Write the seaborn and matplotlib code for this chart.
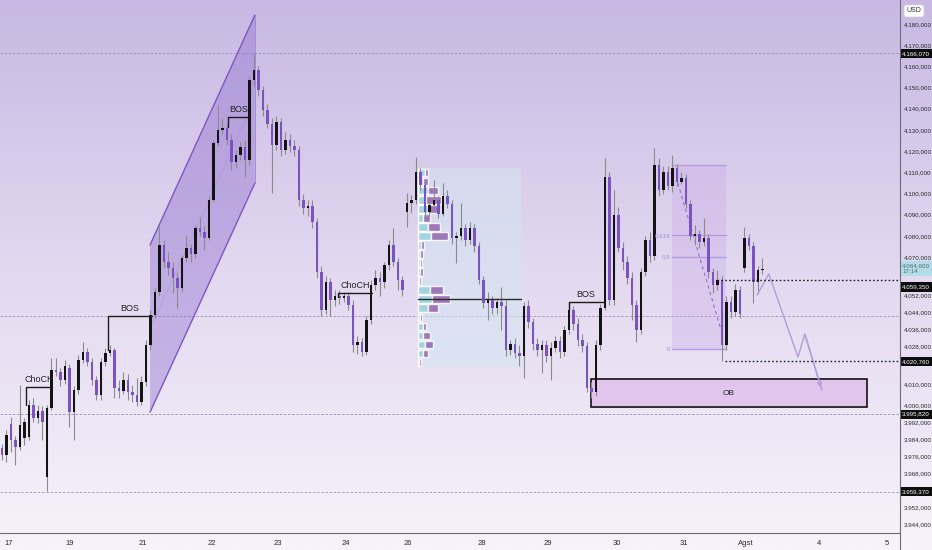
import numpy as np
import pandas as pd
import matplotlib
matplotlib.use("Agg")
import matplotlib.pyplot as plt
import seaborn as sns
from matplotlib.patches import Polygon, Rectangle
from matplotlib.colors import LinearSegmentedColormap
from matplotlib.lines import Line2D

# ---- candle data (price in thousands) ----
opens = [3979.8, 3976.5, 3991.2, 3983.6, 3980.3, 3984.6, 3985.0, 4000.1, 3994.0, 3997.3,
         3966.2, 3998.7, 4016.7, 4015.7, 4011.9, 4017.6, 3996.8, 4007.2, 4021.4, 4025.2,
         4020.4, 4011.9, 4004.9, 4020.4, 4024.7, 4026.1, 4008.2, 4006.7, 4011.9, 4006.3,
         4004.9, 4001.6, 4011.0, 4028.5, 4042.6, 4053.5, 4075.7, 4067.6, 4064.8, 4060.1,
         4055.4, 4069.5, 4074.2, 4071.4, 4083.7, 4081.8, 4079.0, 4096.9, 4123.8, 4129.9,
         4130.9, 4125.2, 4114.8, 4118.1, 4121.9, 4115.8, 4153.5, 4158.3, 4148.8, 4139.4,
         4132.8, 4122.9, 4133.7, 4120.5, 4125.2, 4122.4, 4120.5, 4096.9, 4093.1, 4094.1,
         4086.5, 4062.9, 4045.0, 4058.2, 4049.7, 4051.6, 4050.6, 4051.6, 4047.3, 4028.5,
         4029.9, 4025.2, 4040.3, 4056.8, 4060.1, 4058.2, 4066.2, 4075.7, 4067.6, 4059.1,
         4091.2, 4095.5, 4096.9, 4110.1, 4104.0, 4091.2, 4094.5, 4096.9, 4090.3, 4098.8,
         4095.0, 4079.0, 4079.9, 4083.7, 4078.0, 4083.7, 4075.2, 4059.1, 4048.3, 4049.7,
         4045.9, 4048.8, 4046.9, 4026.1, 4028.9, 4024.7, 4023.3, 4046.9, 4039.3, 4028.9,
         4026.1, 4028.5, 4023.3, 4027.0, 4030.3, 4025.2, 4035.5, 4045.0, 4038.4, 4030.8,
         4028.0, 4008.2, 4006.3, 4028.5, 4045.9, 4107.8, 4049.7, 4089.8, 4074.2, 4067.6,
         4060.1, 4047.3, 4035.5, 4062.9, 4078.0, 4070.5, 4113.4, 4101.6, 4110.1, 4103.5,
         4112.0, 4105.4, 4107.3, 4095.0, 4079.9, 4080.9, 4077.1, 4079.0, 4062.9, 4056.8,
         4059.1, 4028.5, 4048.8, 4044.0, 4054.4, 4064.8, 4079.0, 4075.2, 4058.2, 4063.9]
highs = [3981.7, 3988.3, 3994.5, 3985.5, 4009.6, 3994.0, 4002.5, 4003.4, 4000.1, 3999.7,
         4000.1, 4022.3, 4022.3, 4017.6, 4021.4, 4019.5, 4009.1, 4023.7, 4029.9, 4027.0,
         4022.3, 4013.8, 4022.3, 4027.0, 4028.5, 4027.0, 4011.9, 4015.7, 4014.8, 4009.6,
         4012.9, 4013.8, 4030.8, 4045.0, 4055.4, 4084.2, 4078.0, 4072.4, 4067.6, 4062.9,
         4070.9, 4080.4, 4076.1, 4085.1, 4088.9, 4084.6, 4098.8, 4125.2, 4141.7, 4135.6,
         4132.8, 4128.1, 4120.5, 4124.3, 4125.2, 4155.4, 4166.1, 4160.1, 4150.7, 4142.2,
         4135.6, 4136.5, 4135.6, 4129.0, 4128.1, 4125.2, 4122.4, 4099.7, 4096.9, 4096.9,
         4088.4, 4065.7, 4061.0, 4060.1, 4054.4, 4054.4, 4053.5, 4053.5, 4049.7, 4032.7,
         4031.8, 4042.1, 4059.1, 4063.9, 4062.9, 4067.6, 4078.0, 4083.7, 4069.5, 4061.0,
         4100.2, 4099.3, 4117.2, 4112.0, 4106.3, 4097.8, 4106.3, 4098.8, 4104.9, 4101.6,
         4096.9, 4081.8, 4095.5, 4085.6, 4086.5, 4085.6, 4077.1, 4061.0, 4053.5, 4051.6,
         4050.6, 4055.8, 4049.7, 4030.8, 4031.8, 4028.5, 4048.8, 4049.7, 4041.2, 4031.8,
         4030.8, 4030.8, 4029.9, 4032.7, 4032.7, 4037.4, 4048.8, 4046.9, 4041.2, 4033.7,
         4029.9, 4011.0, 4030.8, 4047.8, 4116.7, 4110.1, 4101.6, 4093.6, 4077.1, 4070.5,
         4062.9, 4049.7, 4064.8, 4079.9, 4081.8, 4121.4, 4116.7, 4112.9, 4112.9, 4118.1,
         4113.9, 4110.1, 4109.2, 4096.9, 4085.1, 4082.7, 4088.4, 4080.9, 4064.8, 4063.9,
         4061.0, 4051.6, 4051.6, 4057.3, 4056.3, 4084.2, 4080.9, 4077.1, 4065.7, 4069.5]
lows = [3974.2, 3973.2, 3978.0, 3971.8, 3978.9, 3981.3, 3983.6, 3992.1, 3991.6, 3983.6,
        3959.4, 3997.8, 4013.8, 4009.1, 4010.1, 3989.8, 3983.6, 4005.3, 4020.0, 4018.5,
        4009.6, 4002.5, 4002.5, 4018.5, 4023.3, 4003.4, 4003.4, 4005.3, 4002.5, 4001.6,
        3999.7, 4000.1, 4009.1, 4026.1, 4041.2, 4051.6, 4064.8, 4061.5, 4053.0, 4045.9,
        4053.5, 4067.6, 4067.6, 4069.5, 4079.9, 4073.3, 4078.0, 4096.0, 4122.4, 4128.1,
        4122.9, 4111.1, 4112.0, 4115.8, 4107.8, 4113.4, 4150.7, 4146.0, 4136.5, 4130.9,
        4100.2, 4120.5, 4117.7, 4118.6, 4119.6, 4117.7, 4094.1, 4090.3, 4089.3, 4083.7,
        4060.1, 4042.1, 4043.1, 4042.1, 4046.9, 4047.8, 4048.8, 4045.0, 4025.2, 4024.2,
        4023.3, 4023.7, 4038.4, 4054.4, 4051.6, 4055.4, 4063.9, 4065.7, 4054.4, 4051.6,
        4084.2, 4090.8, 4095.0, 4101.6, 4088.4, 4089.3, 4093.1, 4088.4, 4089.3, 4093.1,
        4076.1, 4067.2, 4078.0, 4075.2, 4076.1, 4072.4, 4057.3, 4045.9, 4040.3, 4043.1,
        4043.1, 4035.5, 4023.3, 4023.7, 4022.3, 4018.5, 4012.9, 4036.5, 4026.1, 4023.3,
        4015.2, 4020.4, 4011.9, 4025.2, 4022.3, 4023.3, 4033.7, 4035.5, 4028.0, 4025.2,
        4006.3, 4003.4, 4004.4, 4026.1, 4045.0, 4047.3, 4047.3, 4072.4, 4063.9, 4057.3,
        4040.3, 4029.9, 4033.7, 4061.0, 4067.6, 4068.6, 4098.8, 4099.7, 4101.6, 4100.7,
        4103.5, 4104.5, 4093.1, 4078.0, 4075.7, 4074.2, 4075.2, 4060.1, 4053.0, 4054.4,
        4020.8, 4026.1, 4041.2, 4042.1, 4041.2, 4062.9, 4073.3, 4048.3, 4053.0, 4062.0]
closes = [3976.5, 3986.0, 3983.6, 3980.3, 3990.7, 3992.1, 4000.1, 3994.0, 3997.3, 3992.1,
          3998.7, 4016.7, 4015.7, 4011.9, 4018.5, 3996.8, 4007.2, 4021.4, 4025.2, 4020.4,
          4011.9, 4004.9, 4020.4, 4024.7, 4026.1, 4008.2, 4006.7, 4011.9, 4006.3, 4004.9,
          4001.6, 4011.0, 4028.5, 4042.6, 4053.5, 4075.7, 4067.6, 4064.8, 4060.1, 4055.4,
          4069.5, 4074.2, 4071.4, 4083.7, 4081.8, 4079.0, 4096.9, 4123.8, 4129.9, 4130.9,
          4125.2, 4114.8, 4118.1, 4121.9, 4115.8, 4153.5, 4158.3, 4148.8, 4139.4, 4132.8,
          4122.9, 4133.7, 4120.5, 4125.2, 4122.4, 4120.5, 4096.9, 4093.1, 4094.1, 4086.5,
          4062.9, 4045.0, 4058.2, 4049.7, 4051.6, 4050.6, 4051.6, 4047.3, 4028.5, 4029.9,
          4025.2, 4040.3, 4056.8, 4060.1, 4058.2, 4066.2, 4075.7, 4067.6, 4059.1, 4054.4,
          4095.5, 4096.9, 4110.1, 4104.0, 4091.2, 4094.5, 4096.9, 4090.3, 4098.8, 4095.0,
          4079.0, 4079.9, 4083.7, 4078.0, 4083.7, 4075.2, 4059.1, 4048.3, 4049.7, 4045.9,
          4048.8, 4046.9, 4026.1, 4028.9, 4024.7, 4023.3, 4046.9, 4039.3, 4028.9, 4026.1,
          4028.5, 4023.3, 4027.0, 4030.3, 4025.2, 4035.5, 4045.0, 4038.4, 4030.8, 4028.0,
          4008.2, 4006.3, 4028.5, 4045.9, 4107.8, 4049.7, 4089.8, 4074.2, 4067.6, 4060.1,
          4047.3, 4035.5, 4062.9, 4078.0, 4070.5, 4113.4, 4101.6, 4110.1, 4103.5, 4112.0,
          4105.4, 4107.3, 4095.0, 4079.9, 4080.9, 4077.1, 4079.0, 4062.9, 4056.8, 4059.1,
          4028.5, 4048.8, 4044.0, 4054.4, 4043.1, 4079.0, 4075.2, 4058.2, 4063.9, 4064.6]

# ---- axes labels ----
date_ticks = [1.4, 15.1, 31.3, 46.7, 61.3, 76.4, 90.2, 106.7, 121.3, 136.7, 151.6, 165.3, 181.6, 196.7]
date_labels = ["17", "19", "21", "22", "23", "24", "26", "28", "29", "30", "31", "Agst", "4", "5"]
price_ticks = [4180, 4170, 4160, 4150, 4140, 4130, 4120, 4110, 4100, 4090, 4080, 4070,
               4052, 4044, 4036, 4028, 4010, 4000, 3992, 3984, 3976, 3968, 3952, 3944]

# ---- drawings ----
channel_bars = [32.9, 56.2]
channel_upper = [4075.7, 4184.2]
channel_lower = [3996.8, 4104.9]

# (label, first bar, last bar, level, end of the short leg)
structures = [("ChoCH", 5.3, 11.1, 4008.6, 4000.1),
              ("BOS", 23.6, 33.3, 4042.1, 4026.1),
              ("BOS", 50.2, 55.1, 4136.1, 4131.4),
              ("ChoCH", 74.7, 82.2, 4053.0, 4051.1),
              ("BOS", 126.0, 133.6, 4048.8, 4045.0)]

vp_bars = [92.4, 115.3]
vp_top, vp_bottom = 4112.0, 4018.1
vp_up = [7, 5, 10, 8, 10, 5, 10, 13, 3, 2, 2, 2, 1, 12, 14, 10, 2, 5, 5, 7, 5, 1]
vp_down = [3, 5, 10, 15, 10, 7, 12, 17, 3, 3, 2, 3, 2, 13, 18, 10, 2, 3, 7, 8, 5, 2]

fib_bars = [148.9, 160.9]
fib_high, fib_low = 4113.4, 4026.6
fib_ratios = [1, 0.618, 0.5, 0]
fib_path_bars = [150.2, 160.0]
fib_path_prices = [4104.9, 4034.1]

proj_bars = [167.8, 170.4, 176.9, 178.4, 182.2]
proj_prices = [4052.1, 4062.0, 4022.8, 4033.7, 4007.2]

ob_bars = [130.9, 192.2]
ob_low, ob_high = 3999.2, 4012.4

level_lines = [4166.07, 4042.2, 3995.82, 3959.37]
marked_levels = [(4059.35, 158.9), (4020.76, 160.7)]
axis_labels = [(4166.07, 0), (4059.35, -5.4), (4020.76, 0), (3995.82, 0), (3959.37, 0)]
last_price = 4064.6
last_time = "17:14"


def fmt(v):
    s = f"{v:,.3f}"
    return s.replace(",", " ").replace(".", ",").replace(" ", ".")


sns.set_style("white")
plt.rcParams["font.family"] = ["Liberation Sans", "DejaVu Sans"]

df = pd.DataFrame({"open": opens, "high": highs, "low": lows, "close": closes})
df["bar"] = np.arange(len(df))
df["up"] = df["close"] >= df["open"]
body = df["close"] - df["open"]
body = np.where(body.abs() < 0.4, np.where(df["up"], 0.4, -0.4), body)

fig = plt.figure(figsize=(9.32, 5.5), dpi=100)

bg = fig.add_axes([0, 0, 1, 1], zorder=0)
grad = np.linspace(0, 1, 256).reshape(-1, 1)
cmap = LinearSegmentedColormap.from_list("bg", ["#c8b8e3", "#e3d9f0", "#f6f3fa"])
bg.imshow(grad, extent=[0, 1, 0, 1], aspect="auto", cmap=cmap, origin="upper")
bg.set_xlim(0, 1)
bg.set_ylim(0, 1)
bg.axis("off")

ax = fig.add_axes([0, 17 / 550, 900 / 932, 533 / 550], zorder=1)
ax.set_facecolor("none")
ax.set_xlim(-0.44, 199.56)
ax.set_ylim(3939.8, 4191.3)

# thin level lines across the chart
for lv in level_lines:
    ax.axhline(lv, color="#9d93b8", lw=0.6, ls=(0, (3, 2)), zorder=1)

# channel
ax.add_patch(Polygon([[channel_bars[0], channel_upper[0]], [channel_bars[1], channel_upper[1]],
                      [channel_bars[1], channel_lower[1]], [channel_bars[0], channel_lower[0]]],
                     closed=True, fc="#8c6bcf", alpha=0.4, ec="none", zorder=2))
ax.plot(channel_bars, channel_upper, color="#7e57c2", lw=1, zorder=2)
ax.plot(channel_bars, channel_lower, color="#7e57c2", lw=1, zorder=2)
ax.plot([channel_bars[1], channel_bars[1]], [channel_lower[1], channel_upper[1]], color="#9d84d2", lw=0.6, zorder=2)
mid = [(a + b) / 2 for a, b in zip(channel_upper, channel_lower)]
ax.plot(channel_bars, mid, color="#a18ad0", lw=0.6, ls=(0, (1.5, 2)), zorder=2)

# volume profile
ax.add_patch(Rectangle((vp_bars[0], vp_bottom), vp_bars[1] - vp_bars[0], vp_top - vp_bottom,
                       fc="#d2e5f1", alpha=0.55, ec="none", zorder=2))
n_rows = len(vp_up)
row_h = (vp_top - vp_bottom) / n_rows
row_bottoms = vp_top - row_h * (np.arange(n_rows) + 1)
vscale = 1 / 4.5
up_w = np.array(vp_up) * vscale
down_w = np.array(vp_down) * vscale
ax.barh(row_bottoms + row_h * 0.08, up_w, height=row_h * 0.84, left=vp_bars[0],
        align="edge", color="#a4d4df", zorder=3)
ax.barh(row_bottoms + row_h * 0.08, down_w, height=row_h * 0.84, left=vp_bars[0] + up_w,
        align="edge", color="#9366ae", alpha=0.85, zorder=3)
poc = row_bottoms[np.argmax(up_w + down_w)] + row_h / 2
ax.plot(vp_bars, [poc, poc], color="#2b2b2b", lw=1, zorder=5)

# fib retracement box
ax.add_patch(Rectangle((fib_bars[0], fib_low), fib_bars[1] - fib_bars[0], fib_high - fib_low,
                       fc="#c4a3e6", alpha=0.3, ec="none", zorder=2))
for r in fib_ratios:
    lv = fib_low + r * (fib_high - fib_low)
    ax.plot(fib_bars, [lv, lv], color="#b59be0", lw=1, zorder=2)
    if r < 1:
        ax.text(fib_bars[0] - 0.4, lv, fmt(r).rstrip("0").rstrip(","),
                ha="right", va="center", fontsize=4.5, color="#a58bd0", zorder=6)
ax.plot(fib_path_bars, fib_path_prices, color="#8f6fcf", lw=0.8, ls=(0, (3, 3)), zorder=3)

# order block
ax.add_patch(Rectangle((ob_bars[0], ob_low), ob_bars[1] - ob_bars[0], ob_high - ob_low,
                       fc="#e2c5ec", ec="#111111", lw=1.2, zorder=2))
ax.text(sum(ob_bars) / 2, (ob_low + ob_high) / 2, "OB", ha="center", va="center",
        fontsize=6, color="#222222", zorder=6)

# candles
ax.vlines(df["bar"], df["low"], df["high"], color="#8b8b8b", lw=0.8, zorder=4)
ax.bar(df["bar"], body, bottom=df["open"], width=0.62,
       color=np.where(df["up"], "#131313", "#7b52c1"), linewidth=0, zorder=5)

# structure breaks
for label, b0, b1, lv, leg in structures:
    ax.plot([b0, b0, b1], [leg, lv, lv], color="#1c1c1c", lw=1, zorder=6)
    ax.annotate(label, xy=((b0 + b1) / 2, lv), xytext=(0, 2), textcoords="offset points",
                ha="center", va="bottom", fontsize=6.5, color="#222222", zorder=7)

# projection
sns.lineplot(x=proj_bars, y=proj_prices, sort=False, estimator=None, ax=ax,
             color="#b39ddb", lw=1, zorder=6)
ax.annotate("", xy=(proj_bars[-1], proj_prices[-1]), xytext=(proj_bars[-2], proj_prices[-2]),
            arrowprops=dict(arrowstyle="->", color="#b39ddb", lw=1, mutation_scale=7), zorder=6)

# dotted marked levels
for lv, start in marked_levels:
    ax.plot([start, 199.56], [lv, lv], color="#222222", lw=1, ls=(0, (1.2, 1.6)), zorder=6)

# axes styling
for s in ax.spines.values():
    s.set_visible(False)
ax.yaxis.tick_right()
ax.set_yticks(price_ticks)
ax.set_yticklabels([fmt(v) for v in price_ticks])
ax.set_xticks(date_ticks)
ax.set_xticklabels(date_labels)
ax.tick_params(axis="both", length=0, colors="#2a2a2a")
ax.tick_params(axis="y", pad=2.5, labelsize=4.5)
ax.tick_params(axis="x", pad=5, labelsize=5.5)

fig.add_artist(Line2D([900 / 932, 900 / 932], [0, 1], color="#6f6a78", lw=0.8))
fig.add_artist(Line2D([0, 900 / 932], [17 / 550, 17 / 550], color="#6f6a78", lw=0.8))

# price labels on the axis
for lv, dy in axis_labels:
    ax.annotate(fmt(lv), xy=(1, lv), xycoords=("axes fraction", "data"), xytext=(1.6, dy),
                textcoords="offset points", ha="left", va="center", fontsize=4.5, color="white",
                bbox=dict(boxstyle="square,pad=0.35", fc="#0d0d0d", ec="none"), zorder=8,
                annotation_clip=False)
ax.annotate(fmt(last_price) + "\n" + last_time, xy=(1, last_price), xycoords=("axes fraction", "data"),
            xytext=(1.6, 0), textcoords="offset points", ha="left", va="center", fontsize=4.5,
            color="#4f6f7c", linespacing=1.15,
            bbox=dict(boxstyle="square,pad=0.35", fc="#b3dce6", ec="none"), zorder=8,
            annotation_clip=False)

fig.text(914 / 932, 1 - 11 / 550, "USD", ha="center", va="center", fontsize=5, color="#333333",
         bbox=dict(boxstyle="round,pad=0.35", fc="white", ec="#dddddd", lw=0.5))

fig.savefig("out.png", dpi=100)
